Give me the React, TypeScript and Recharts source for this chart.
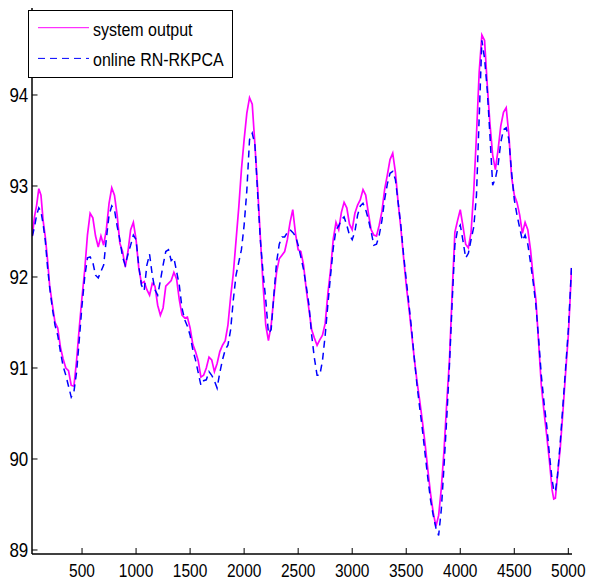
import React from 'react';
import { LineChart, Line, XAxis, YAxis, Legend } from 'recharts';

const xValues = [
  40, 60, 80, 100, 120, 140, 160, 180,
  200, 225, 250, 275, 300, 325, 350, 375, 400, 425, 450, 475, 500, 525, 550, 575, 600, 625, 650, 675,
  700, 725, 750, 775, 800, 825, 850, 875, 900, 925, 950, 975, 1000, 1025, 1050, 1075, 1100, 1125, 1150, 1175,
  1200, 1225, 1250, 1275, 1300, 1325, 1350, 1375, 1400, 1425, 1450, 1475, 1500, 1525, 1550, 1575, 1600, 1625, 1650, 1675,
  1700, 1725, 1750, 1775, 1800, 1825, 1850, 1875, 1900, 1925, 1950, 1975, 2000, 2025, 2050, 2075, 2100, 2125, 2150, 2175,
  2200, 2225, 2250, 2275, 2300, 2325, 2350, 2375, 2400, 2425, 2450, 2475, 2500, 2525, 2550, 2575, 2600, 2625, 2650, 2675,
  2700, 2725, 2750, 2775, 2800, 2825, 2850, 2875, 2900, 2925, 2950, 2975, 3000, 3025, 3050, 3075, 3100, 3125, 3150, 3175,
  3200, 3225, 3250, 3275, 3300, 3325, 3350, 3375, 3400, 3425, 3450, 3475, 3500, 3525, 3550, 3575, 3600, 3625, 3650, 3675,
  3700, 3725, 3750, 3775, 3800, 3825, 3850, 3875, 3900, 3925, 3950, 3975, 4000, 4025, 4050, 4075, 4100, 4125, 4150, 4175,
  4200, 4225, 4250, 4275, 4300, 4325, 4350, 4375, 4400, 4425, 4450, 4475, 4500, 4525, 4550, 4575, 4600, 4625, 4650, 4675,
  4700, 4725, 4750, 4775, 4800, 4825, 4850,
  4865, 4880, 4900, 4925, 4950, 4975, 5000, 5015, 5030,
];

const systemOutput = [
  92.45, 92.66, 92.79, 92.97, 92.9, 92.62, 92.44, 92.2,
  91.91, 91.7, 91.5, 91.44, 91.23, 91.1, 91.0, 90.97, 90.81, 90.8, 91.09, 91.45, 91.78, 92.08, 92.46, 92.7, 92.65, 92.45, 92.33, 92.45,
  92.35, 92.52, 92.81, 92.98, 92.9, 92.68, 92.37, 92.28, 92.11, 92.28, 92.52, 92.6, 92.41, 92.1, 91.93, 91.95, 91.86, 91.8, 91.93, 91.9,
  91.69, 91.58, 91.66, 91.9, 91.93, 91.96, 92.05, 91.98, 91.75, 91.58, 91.55, 91.56, 91.44, 91.26, 91.18, 91.08, 90.9, 90.92, 91.0, 91.12,
  91.09, 90.96, 91.05, 91.18, 91.25, 91.3, 91.47, 91.78, 92.04, 92.4, 92.76, 93.18, 93.51, 93.8, 93.97, 93.9, 93.45, 92.98, 92.44, 91.92,
  91.47, 91.3, 91.47, 91.78, 92.05, 92.2, 92.24, 92.28, 92.41, 92.6, 92.74, 92.48, 92.3, 92.28, 92.13, 91.86, 91.64, 91.42, 91.33, 91.25,
  91.31, 91.36, 91.49, 91.82, 92.08, 92.42, 92.6, 92.52, 92.71, 92.82, 92.76, 92.58, 92.52, 92.7, 92.79, 92.85, 92.96, 92.9, 92.7, 92.52,
  92.46, 92.45, 92.57, 92.72, 92.96, 93.12, 93.29, 93.36, 93.15, 92.82, 92.54, 92.22, 91.91, 91.66, 91.38, 91.1, 90.85, 90.64, 90.41, 90.16,
  89.88, 89.62, 89.41, 89.26, 89.38, 89.68, 90.1, 90.62, 91.09, 91.82, 92.49, 92.62, 92.74, 92.56, 92.36, 92.32, 92.49, 92.95, 93.56, 94.25,
  94.66, 94.6, 94.11, 93.68, 93.34, 93.18, 93.4, 93.66, 93.81, 93.86, 93.56, 93.1, 92.9, 92.82, 92.68, 92.48, 92.6, 92.52, 92.3, 92.0,
  91.75, 91.28, 90.81, 90.52, 90.26, 89.98, 89.66,
  89.56, 89.57, 89.82, 90.12, 90.52, 90.95, 91.36, 91.72, 92.1,
];

const onlineRNRKPCA = [
  92.45, 92.55, 92.68, 92.76, 92.72, 92.58, 92.4, 92.12,
  91.89, 91.66, 91.47, 91.36, 91.18, 91.02, 90.92, 90.8, 90.68, 90.74, 90.96, 91.32, 91.69, 92.0, 92.21, 92.22, 92.16, 92.02, 91.99, 92.06,
  92.13, 92.42, 92.68, 92.78, 92.74, 92.56, 92.41, 92.22, 92.13, 92.25, 92.35, 92.46, 92.41, 92.12, 91.91, 91.85, 92.13, 92.25, 92.02, 91.86,
  91.8, 91.96, 92.13, 92.28, 92.3, 92.18, 92.21, 92.06, 91.91, 91.66, 91.53, 91.46, 91.36, 91.2, 91.09, 90.95, 90.81, 90.86, 90.87, 90.96,
  90.92, 90.86, 90.78, 90.95, 91.09, 91.2, 91.25, 91.42, 91.75, 92.02, 92.16, 92.3, 92.57, 92.95, 93.51, 93.58, 93.45, 92.92, 92.41, 92.05,
  91.75, 91.38, 91.42, 91.8, 92.16, 92.36, 92.44, 92.44, 92.49, 92.52, 92.49, 92.45, 92.35, 92.22, 92.08, 91.9, 91.69, 91.36, 91.11, 90.92,
  90.92, 91.08, 91.36, 91.7, 92.02, 92.32, 92.52, 92.56, 92.63, 92.66, 92.57, 92.46, 92.41, 92.5, 92.68, 92.78, 92.81, 92.74, 92.63, 92.5,
  92.35, 92.36, 92.46, 92.62, 92.85, 93.02, 93.14, 93.16, 93.07, 92.82, 92.57, 92.25, 91.97, 91.7, 91.42, 91.1, 90.81, 90.56, 90.32, 90.05,
  89.79, 89.55, 89.38, 89.24, 89.16, 89.45, 89.93, 90.45, 91.03, 91.72, 92.35, 92.52, 92.57, 92.4, 92.21, 92.26, 92.41, 92.55, 92.9, 93.75,
  94.6, 94.4, 94.05, 93.55, 93.01, 93.08, 93.23, 93.48, 93.62, 93.64, 93.51, 93.15, 92.85, 92.68, 92.54, 92.4, 92.46, 92.36, 92.16, 91.94,
  91.69, 91.32, 90.92, 90.62, 90.37, 90.05, 89.77,
  89.66, 89.64, 89.82, 90.18, 90.59, 91.0, 91.42, 91.76, 92.13,
];

const xTicks = [500, 1000, 1500, 2000, 2500, 3000, 3500, 4000, 4500, 5000];
const yTicks = [89, 90, 91, 92, 93, 94];
const seriesNames = ['system output', 'online RN-RKPCA'];
const seriesColors = ['#ff00ff', '#0000ff'];

const data = xValues.map((x, i) => ({ x, sys: systemOutput[i], rk: onlineRNRKPCA[i] }));

const FONT = '"Liberation Sans", Arial, Helvetica, sans-serif';
const X_DOMAIN: [number, number] = [37, 5034];
const Y_DOMAIN: [number, number] = [88.956, 94.956];
const DASH = '7 5';

const BottomTick = (props: any) => {
  const { x, y, payload } = props;
  return (
    <g>
      <line x1={x} y1={y} x2={x} y2={y - 6} stroke="#000" strokeWidth={1} />
      <text transform={`translate(${x},${y + 23.3}) scale(1,1.15)`} textAnchor="middle" fontSize={15.5} fontFamily={FONT} fill="#000">
        {payload.value}
      </text>
    </g>
  );
};

const TopTick = (props: any) => {
  const { x, y } = props;
  return <line x1={x} y1={y} x2={x} y2={y + 6} stroke="#000" strokeWidth={1} />;
};

const LeftTick = (props: any) => {
  const { x, y, payload } = props;
  return (
    <g>
      <line x1={x} y1={y} x2={x + 5.5} y2={y} stroke="#000" strokeWidth={1} />
      <text transform={`translate(${x - 3.7},${y + 7}) scale(1,1.15)`} textAnchor="end" fontSize={17} fontFamily={FONT} fill="#000">
        {payload.value}
      </text>
    </g>
  );
};

const RightTick = (props: any) => {
  const { x, y } = props;
  return <line x1={x} y1={y} x2={x - 5.5} y2={y} stroke="#000" strokeWidth={1} />;
};

const renderLegend = () => (
  <svg width={205} height={68} style={{ display: 'block' }}>
    <rect x={0.5} y={0.5} width={204} height={67} fill="#fff" stroke="#000" strokeWidth={1} />
    <line x1={10} y1={17.7} x2={61} y2={17.7} stroke={seriesColors[0]} strokeWidth={1} />
    <text transform="translate(65,25.7) scale(1,1.17)" fontSize={16} fontFamily={FONT} fill="#000">
      {seriesNames[0]}
    </text>
    <line x1={10} y1={48.4} x2={61} y2={48.4} stroke={seriesColors[1]} strokeWidth={1} strokeDasharray={DASH} />
    <text transform="translate(65,56.4) scale(1,1.17)" fontSize={16} fontFamily={FONT} fill="#000">
      {seriesNames[1]}
    </text>
  </svg>
);

const axisLine = { stroke: '#000', strokeWidth: 1.5 };

export default function App() {
  return (
    <div style={{ position: 'absolute', left: 0, top: 0, background: '#fff' }}>
      <LineChart width={589} height={581} data={data} margin={{ top: 8, right: 17, bottom: 0, left: 0 }}>
        <XAxis
          xAxisId="b"
          dataKey="x"
          type="number"
          domain={X_DOMAIN}
          allowDataOverflow
          ticks={xTicks}
          interval={0}
          height={27}
          tickSize={0}
          tickMargin={0}
          tickLine={false}
          axisLine={axisLine}
          tick={BottomTick}
        />
        <XAxis
          xAxisId="t"
          orientation="top"
          dataKey="x"
          type="number"
          domain={X_DOMAIN}
          allowDataOverflow
          ticks={xTicks}
          interval={0}
          height={0}
          tickSize={0}
          tickMargin={0}
          tickLine={false}
          axisLine={axisLine}
          tick={TopTick}
        />
        <YAxis
          yAxisId="l"
          type="number"
          domain={Y_DOMAIN}
          allowDataOverflow
          ticks={yTicks}
          interval={0}
          width={32}
          tickSize={0}
          tickMargin={0}
          tickLine={false}
          axisLine={axisLine}
          tick={LeftTick}
        />
        <YAxis
          yAxisId="r"
          orientation="right"
          type="number"
          domain={Y_DOMAIN}
          allowDataOverflow
          ticks={yTicks}
          interval={0}
          width={0}
          tickSize={0}
          tickMargin={0}
          tickLine={false}
          axisLine={axisLine}
          tick={RightTick}
        />
        <Line
          xAxisId="b"
          yAxisId="l"
          type="linear"
          dataKey="sys"
          name={seriesNames[0]}
          stroke={seriesColors[0]}
          strokeWidth={1.7}
          dot={false}
          isAnimationActive={false}
        />
        <Line
          xAxisId="b"
          yAxisId="l"
          type="linear"
          dataKey="rk"
          name={seriesNames[1]}
          stroke={seriesColors[1]}
          strokeWidth={1.5}
          strokeDasharray={DASH}
          dot={false}
          isAnimationActive={false}
        />
        <Legend
          layout="horizontal"
          verticalAlign="middle"
          align="center"
          content={renderLegend}
          wrapperStyle={{ left: 28, top: 10, width: 205, height: 68 }}
        />
      </LineChart>
    </div>
  );
}
